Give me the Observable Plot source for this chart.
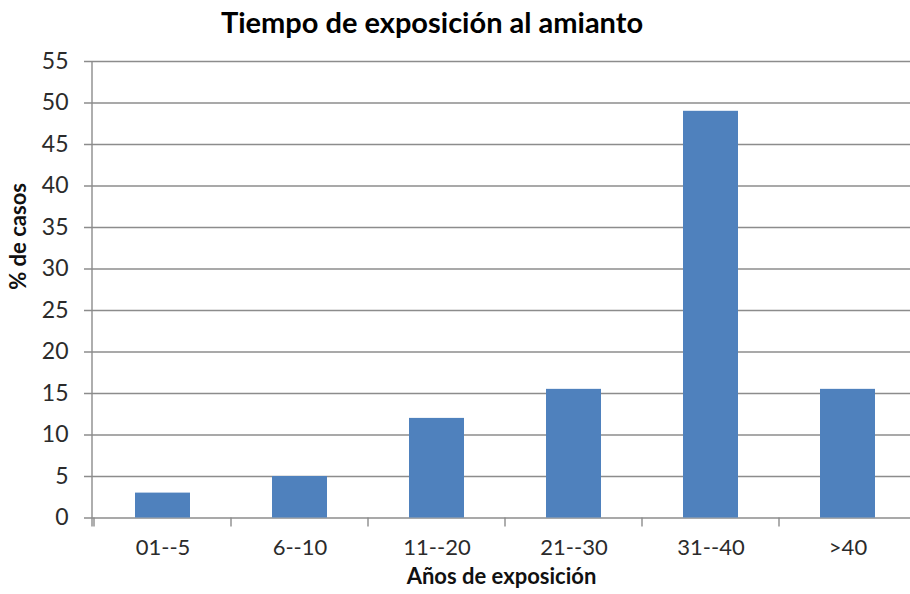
<!DOCTYPE html>
<html><head><meta charset="utf-8">
<script src="https://cdn.jsdelivr.net/npm/d3@7"></script>
<script src="https://cdn.jsdelivr.net/npm/@observablehq/plot@0.6"></script>
<style>
body{margin:0;background:#fff;width:910px;height:594px;overflow:hidden;font-family:Lato,sans-serif}
#title{height:40px;line-height:44px;text-align:center;font-weight:bold;font-size:29px;color:#000;padding-right:46px;white-space:nowrap}
#chart svg{display:block}
</style></head><body>
<div id="title">Tiempo de exposición al amianto</div>
<div id="chart"></div>
<script>
const categories = ["01--5", "6--10", "11--20", "21--30", "31--40", ">40"];
const values = [3, 5, 12, 15.5, 49, 15.5];
const yTicks = [0, 5, 10, 15, 20, 25, 30, 35, 40, 45, 50, 55];
const xLabel = "Años de exposición";
const yLabel = "% de casos";

const data = categories.map((c, i) => ({cat: c, pct: values[i]}));
const gridColor = "#8c8c8c";

function axisLines(index, scales, values, dims) {
  const x = scales.x, y = scales.y;
  const step = x.step();
  const pad = (step - x.bandwidth()) / 2;
  const g = d3.create("svg:g").attr("stroke", gridColor).attr("stroke-width", 1.4).attr("fill", "none");
  const y0 = y(0);
  g.append("line").attr("x1", dims.marginLeft).attr("x2", dims.marginLeft)
    .attr("y1", y(55)).attr("y2", y0 + 9);
  for (const c of categories) {
    const bx = x(c) - pad;
    g.append("line").attr("x1", bx).attr("x2", bx).attr("y1", y0).attr("y2", y0 + 9);
  }
  return g.node();
}

const chart = Plot.plot({
  width: 910, height: 554,
  marginLeft: 92, marginRight: 0, marginTop: 21, marginBottom: 76.5,
  style: {fontFamily: "Lato, sans-serif", fontSize: "23px", color: "#333", background: "#fff", overflow: "visible"},
  x: {domain: categories, range: [92, 918], paddingInner: 0.6, paddingOuter: 0.3, label: null},
  y: {domain: [0, 55], label: null},
  marks: [
    Plot.gridY(yTicks, {stroke: gridColor, strokeOpacity: 1, strokeWidth: 1.4, insetLeft: -8}),
    Plot.barY(data, {x: "cat", y: "pct", fill: "#4f81bd"}),
    Plot.axisY(yTicks, {tickSize: 0, tickPadding: 24, fill: "#2b2b2b", fontSize: 23}),
    Plot.axisX({tickSize: 0, tickPadding: 21, fill: "#2b2b2b", fontSize: 22}),
    axisLines,
    Plot.text([xLabel], {frameAnchor: "bottom", dy: 66, fontWeight: "bold", fontSize: 22, fill: "#111"}),
    Plot.text([yLabel], {frameAnchor: "left", dx: -74, rotate: -90, fontWeight: "bold", fontSize: 22, fill: "#111"})
  ]
});
document.getElementById("chart").append(chart);
</script>
</body></html>
